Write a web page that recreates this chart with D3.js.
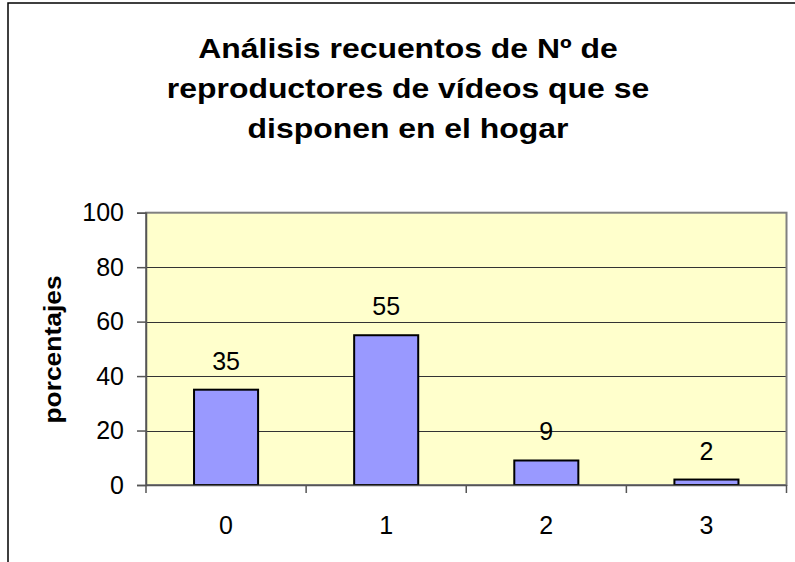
<!DOCTYPE html>
<html>
<head>
<meta charset="utf-8">
<script src="https://cdn.jsdelivr.net/npm/d3@7"></script>
<style>
  body { margin: 0; background: #fff; }
  svg { display: block; font-family: "Liberation Sans", Arial, sans-serif; }
</style>
</head>
<body>
<div id="chart"></div>
<script>
const categories = ['0', '1', '2', '3'];
const values = [35, 55, 9, 2];
const yTicks = [0, 20, 40, 60, 80, 100];
const titleLines = ['Análisis recuentos de Nº de', 'reproductores de vídeos que se', 'disponen en el hogar'];

const w = 795;
const h = 562;
const plot = { left: 146, right: 786.5, top: 212.7, bottom: 485 };

const svg = d3.select('#chart')
  .append('svg')
  .attr('width', w)
  .attr('height', h);

// outer chart frame (cut off at right and bottom)
svg.append('rect')
  .attr('x', 8)
  .attr('y', 3)
  .attr('width', 900)
  .attr('height', 700)
  .attr('fill', 'none')
  .attr('stroke', '#000')
  .attr('stroke-width', 1.5);

const xScale = d3.scaleBand()
  .domain(categories)
  .range([plot.left, plot.right])
  .paddingInner(0.6)
  .paddingOuter(0.3);

const yScale = d3.scaleLinear()
  .domain([0, 100])
  .range([plot.bottom, plot.top]);

// plot background
svg.append('rect')
  .attr('x', plot.left)
  .attr('y', plot.top)
  .attr('width', plot.right - plot.left)
  .attr('height', plot.bottom - plot.top)
  .attr('fill', '#ffffcc');

// gridlines
svg.append('g')
  .selectAll('line')
  .data(yTicks.filter(d => d > 0 && d < 100))
  .enter()
  .append('line')
  .attr('x1', plot.left)
  .attr('x2', plot.right)
  .attr('y1', d => Math.round(yScale(d)) + 0.5)
  .attr('y2', d => Math.round(yScale(d)) + 0.5)
  .attr('stroke', '#333')
  .attr('stroke-width', 1);

// plot border
svg.append('rect')
  .attr('x', plot.left)
  .attr('y', plot.top)
  .attr('width', plot.right - plot.left)
  .attr('height', plot.bottom - plot.top)
  .attr('fill', 'none')
  .attr('stroke', '#808080')
  .attr('stroke-width', 2);

// bars
svg.append('g')
  .selectAll('rect')
  .data(values)
  .enter()
  .append('rect')
  .attr('x', (d, i) => xScale(categories[i]))
  .attr('y', d => yScale(d))
  .attr('width', xScale.bandwidth())
  .attr('height', d => yScale(0) - yScale(d))
  .attr('fill', '#9999ff')
  .attr('stroke', '#000')
  .attr('stroke-width', 2);

// value labels
svg.append('g')
  .selectAll('text')
  .data(values)
  .enter()
  .append('text')
  .attr('x', (d, i) => xScale(categories[i]) + xScale.bandwidth() / 2)
  .attr('y', d => yScale(d) - 20)
  .attr('text-anchor', 'middle')
  .attr('font-size', 25)
  .attr('fill', '#000')
  .text(d => d);

/**
 * AXES
 */
const yAxis = d3.axisLeft(yScale)
  .tickValues(yTicks)
  .tickSize(9)
  .tickPadding(13);

const yAxisG = svg.append('g')
  .attr('transform', `translate(${plot.left},0)`)
  .call(yAxis);

yAxisG.select('.domain').attr('stroke', '#555').attr('stroke-width', 1.5);
yAxisG.selectAll('.tick line').attr('stroke', '#555').attr('stroke-width', 1.5);
yAxisG.selectAll('.tick text')
  .attr('font-size', 25)
  .attr('font-family', '"Liberation Sans", Arial, sans-serif')
  .attr('fill', '#000');

const xAxis = d3.axisBottom(xScale)
  .tickSize(0)
  .tickPadding(31);

const xAxisG = svg.append('g')
  .attr('transform', `translate(0,${plot.bottom})`)
  .call(xAxis);

xAxisG.select('.domain').attr('stroke', '#555').attr('stroke-width', 1.5);
xAxisG.selectAll('.tick text')
  .attr('font-size', 25)
  .attr('font-family', '"Liberation Sans", Arial, sans-serif')
  .attr('fill', '#000');

// tick marks on category boundaries
const bounds = d3.range(categories.length + 1).map(i => plot.left + i * (plot.right - plot.left) / categories.length);
xAxisG.selectAll('.bound')
  .data(bounds)
  .enter()
  .append('line')
  .attr('class', 'bound')
  .attr('x1', d => d)
  .attr('x2', d => d)
  .attr('y1', 0)
  .attr('y2', 8)
  .attr('stroke', '#555')
  .attr('stroke-width', 1.5);

// y axis title
svg.append('text')
  .attr('text-anchor', 'middle')
  .attr('transform', `translate(61, 349.5)rotate(-90)scale(1.1,1)`)
  .attr('font-size', 24)
  .attr('font-weight', 'bold')
  .text('porcentajes');

// title (source font renders wider than Liberation Sans, hence the stretch)
svg.append('g')
  .selectAll('text')
  .data(titleLines)
  .enter()
  .append('text')
  .attr('transform', (d, i) => `translate(408, ${58 + i * 40})scale(1.14,1)`)
  .attr('text-anchor', 'middle')
  .attr('font-size', 28)
  .attr('font-weight', 'bold')
  .text(d => d);
</script>
</body>
</html>
